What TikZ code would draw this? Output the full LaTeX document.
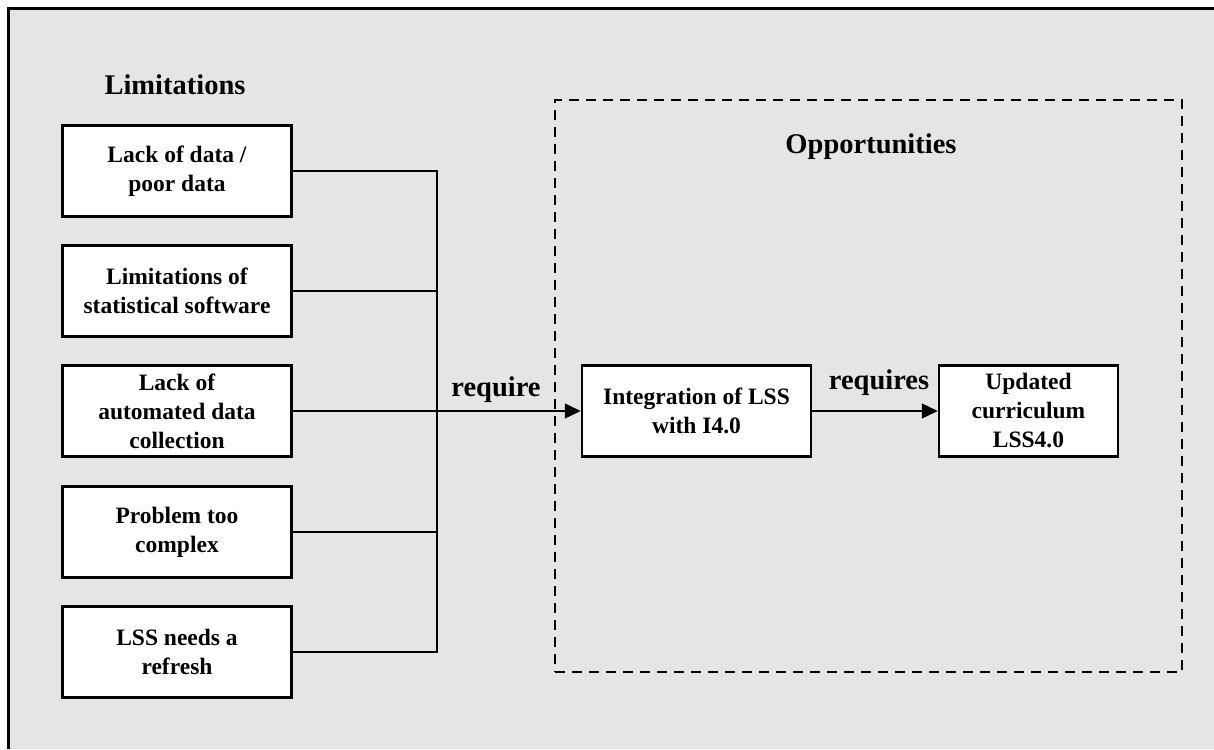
\documentclass[tikz,border=0pt]{standalone}
\usepackage{fontspec}
\setmainfont{Liberation Serif}
\usetikzlibrary{arrows.meta}
\definecolor{bg}{RGB}{230,228,229}
\begin{document}
\begin{tikzpicture}[x=1pt,y=-1pt,
  box/.style={draw=black,line width=2.5pt,fill=white,minimum width=229pt,minimum height=91pt,
    align=center,font=\bfseries\fontsize{23.5}{29}\selectfont,inner sep=0pt},
  head/.style={font=\bfseries\fontsize{28.5}{34}\selectfont,inner sep=0pt},
  conn/.style={line width=1.3pt},
  arr/.style={line width=1.3pt,-{Triangle[length=16pt,width=15pt]}},
  dashbox/.style={draw=black,line width=2.5pt,dash pattern=on 10pt off 7pt,inner sep=0pt}]
\useasboundingbox (0,0) rectangle (1214,749);
\fill[white] (0,0) rectangle (1214,749);
\fill[bg] (8,9) rectangle (1214,749);
\draw[line width=3pt] (8,749) -- (8,9) -- (1214,9);

\node[dashbox,minimum width=627pt,minimum height=572pt] (oppbox) at (868.5,386) {};

\node[head] (limh) at (175,85) {Limitations};
\node[head] (opph) at (871,147) {Opportunities};

\node[box] (b1) at (177,171) {Lack of data /\\poor data};
\node[box] (b2) at (177,291) {Limitations of\\statistical software};
\node[box] (b3) at (177,411) {Lack of\\automated data\\collection};
\node[box] (b4) at (177,532) {Problem too\\complex};
\node[box] (b5) at (177,652) {LSS needs a\\refresh};

\node[box] (int) at (696.5,411) {Integration of LSS\\with I4.0};
\node[box,minimum width=179pt] (upd) at (1028.5,411) {Updated\\curriculum\\LSS4.0};

\coordinate (j) at (437,411);
\draw[conn] (b1.east) -| (j);
\draw[conn] (b2.east) -| (j);
\draw[conn] (b3.east) -- (j);
\draw[conn] (b4.east) -| (j);
\draw[conn] (b5.east) -| (j);
\draw[arr] (j) -- (int.west);
\draw[arr] (int.east) -- (upd.west);

\node[head] (req1) at (496,390) {require};
\node[head] (req2) at (879,383) {requires};
\end{tikzpicture}
\end{document}
